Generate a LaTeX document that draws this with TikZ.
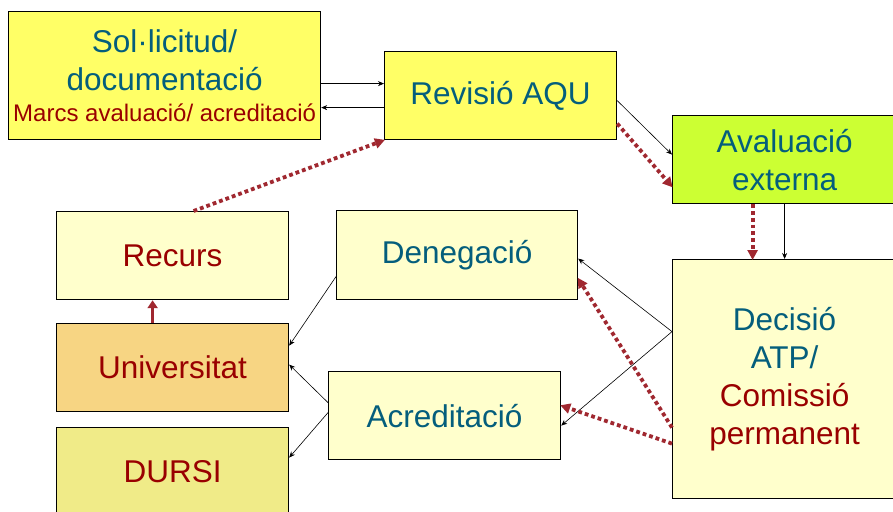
\documentclass[tikz,border=0pt]{standalone}
\usepackage{fontspec}
\setmainfont{Liberation Sans}
\usetikzlibrary{arrows.meta}
\definecolor{teal}{RGB}{4,94,124}
\definecolor{dred}{RGB}{153,0,0}
\definecolor{arrred}{RGB}{160,40,48}
\definecolor{yel}{RGB}{255,255,102}
\definecolor{lime}{RGB}{204,255,51}
\definecolor{pale}{RGB}{255,255,204}
\definecolor{orng}{RGB}{247,213,131}
\definecolor{khaki}{RGB}{240,235,136}
\tikzset{
  box/.style={draw=black, line width=1.2pt, anchor=north west, align=center, inner sep=0pt,
    font=\fontsize{31.5}{38}\selectfont, text=teal},
  thin/.style={draw=black, line width=0.6pt, -{Stealth[length=6pt,width=5pt]}},
  reddot/.style={draw=arrred, line width=3.8pt, dash pattern=on 3.8pt off 3pt,
    -{Triangle[length=10pt,width=10pt]}, shorten >=-1pt},
  redsolid/.style={draw=arrred, line width=3.5pt, -{Triangle[length=8pt,width=10pt]}}
}
\begin{document}
\begin{tikzpicture}[x=1pt,y=-1pt]
\useasboundingbox[fill=white] (0,0) rectangle (893,511);
\node[box, fill=yel, minimum width=312pt, minimum height=128pt] (sol) at (8,11)
  {Sol·licitud/\\documentació\\[-7pt]{\color{dred}\fontsize{24}{28}\selectfont Marcs avaluació/ acreditació}};
\node[box, fill=yel, minimum width=232pt, minimum height=88pt] (rev) at (384,51) {Revisió AQU};
\node[box, fill=lime, minimum width=224pt, minimum height=88pt] (ava) at (672,115) {Avaluació\\externa};
\node[box, fill=pale, minimum width=224pt, minimum height=239pt] (dec) at (672,259)
  {Decisió\\ATP/\\{\color{dred}Comissió}\\{\color{dred}permanent}};
\node[box, fill=pale, minimum width=232pt, minimum height=88pt, text=dred] (rec) at (56,211) {Recurs};
\node[box, fill=orng, minimum width=232pt, minimum height=88pt, text=dred] (uni) at (56,323) {Universitat};
\node[box, fill=khaki, minimum width=232pt, minimum height=88pt, text=dred] (dur) at (56,427) {DURSI};
\node[box, fill=pale, minimum width=241pt, minimum height=89pt] (den) at (336,210) {Denegació};
\node[box, fill=pale, minimum width=232pt, minimum height=88pt] (acr) at (328,371) {Acreditació};

\draw[thin] ([yshift=-8pt]sol.east) -- ([yshift=12pt]rev.west);
\draw[thin] ([yshift=-12pt]rev.west) -- ([yshift=-32pt]sol.east);
\draw[thin] ([yshift=-5pt]rev.east) -- ([yshift=5pt]ava.west);
\draw[reddot] ([yshift=-28pt]rev.east) -- ([yshift=-27pt]ava.west);
\draw[reddot] ([xshift=-32pt]ava.south) -- ([xshift=-32pt]dec.north);
\draw[thin] (ava.south) -- (dec.north);
\draw[thin] ([yshift=47.5pt]dec.west) -- ([yshift=-3.5pt]den.east);
\draw[thin] ([yshift=47.5pt]dec.west) -- ([yshift=-10pt]acr.east);
\draw[reddot] ([yshift=-48.5pt]dec.west) -- ([yshift=-23.5pt]den.east);
\draw[reddot] ([yshift=-64.5pt]dec.west) -- ([yshift=10pt]acr.east);
\draw[thin] ([yshift=-21.5pt]den.west) -- ([yshift=22pt]uni.east);
\draw[thin] ([yshift=13pt]acr.west) -- ([yshift=3pt]uni.east);
\draw[thin] ([yshift=3pt]acr.west) -- ([yshift=14pt]dur.east);
\draw[redsolid] ([xshift=-20pt]uni.north) -- ([xshift=-20pt]rec.south);
\draw[reddot] ([xshift=21pt]rec.north) -- (rev.south west);
\end{tikzpicture}
\end{document}
